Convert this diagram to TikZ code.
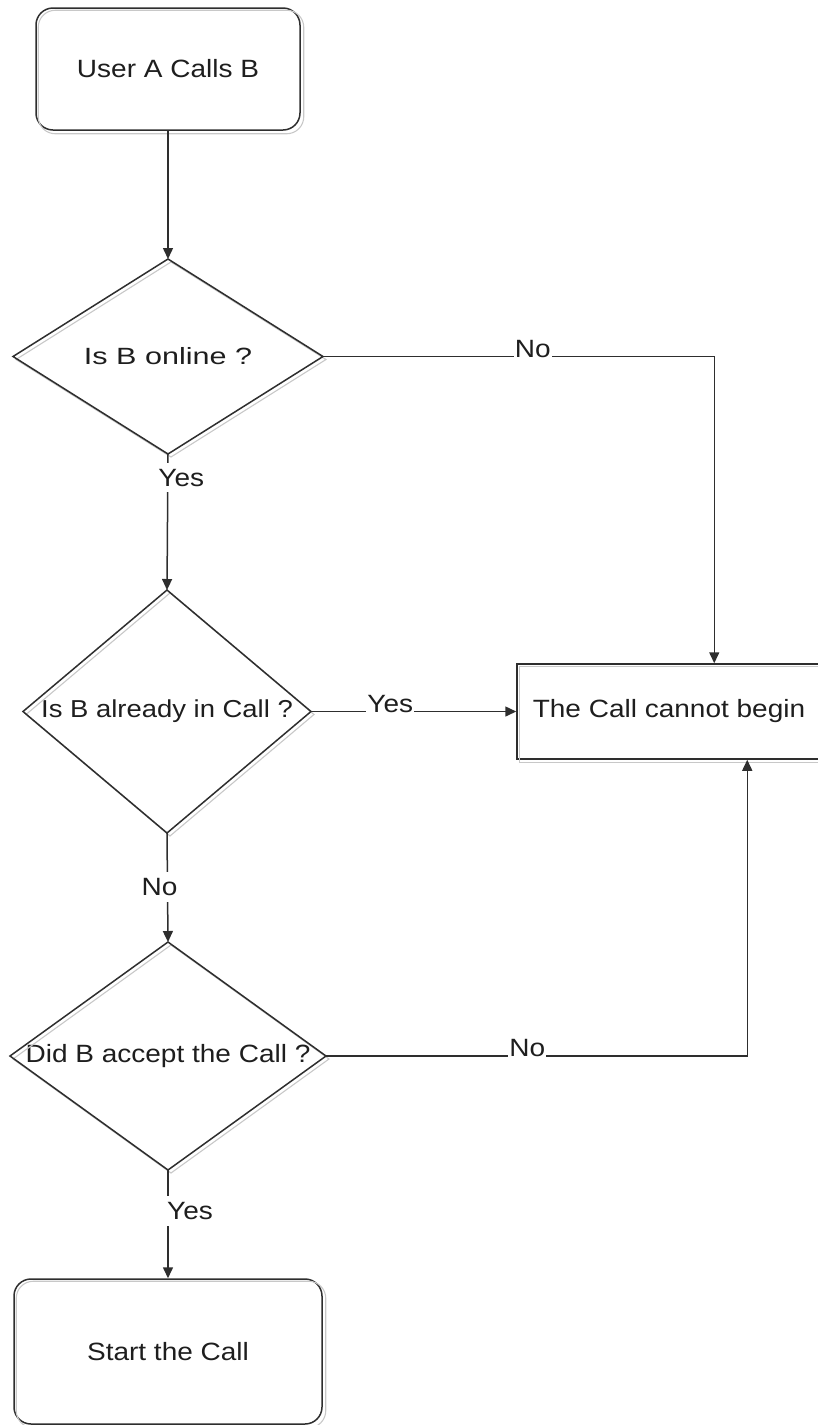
\documentclass[tikz,border=0pt]{standalone}
\usepackage{fontspec}
\setmainfont{Liberation Sans}[FakeStretch=1.12]
\newfontfamily\widefont{Liberation Sans}[FakeStretch=1.3]
\usetikzlibrary{arrows.meta}
\definecolor{ink}{HTML}{1E1E1E}
\definecolor{edge}{HTML}{2E2E2E}
\definecolor{shade}{HTML}{C8C8C8}

\begin{document}
\begin{tikzpicture}[x=1pt,y=-1pt,
  every node/.style={font=\fontsize{25}{30}\selectfont, text=ink},
  termbox/.style={rectangle, rounded corners=17pt, draw=edge, line width=1.5pt, align=center},
  plainbox/.style={rectangle, draw=edge, line width=1.5pt, align=center},
  decision/.style={rectangle, inner sep=0pt, outer sep=0pt, align=center},
  outline/.style={draw=edge, line width=1.5pt, line join=miter},
  ghost/.style={draw=shade, line width=1.1pt, transform canvas={xshift=3pt,yshift=-3pt}},
  conn/.style={draw=edge, line width=1.5pt},
  flow/.style={conn, -{Triangle[length=11pt,width=10pt]}},
  hlbl/.style={anchor=south, fill=white, inner xsep=1pt, inner ysep=0pt, yshift=-1.5pt},
  vlbl/.style={fill=white, inner xsep=2pt, inner ysep=6pt}
]
\useasboundingbox (0,0) rectangle (817,1425);

% terminals and the outcome box
\node[termbox, minimum width=264pt, minimum height=122pt] (start) at (168,69) {User A Calls B};
\node[termbox, minimum width=308pt, minimum height=145pt] (begin) at (168,1351.5) {Start the Call};
\node[plainbox, minimum width=304pt, minimum height=95pt] (nogo) at (669,711.5) {The Call cannot begin};

% decisions: text node plus a diamond outline through its anchors
\node[decision, minimum width=310pt, minimum height=195pt, font=\widefont\fontsize{23.5}{28}\selectfont] (q1) at (168,356.5) {Is B online ?};
\node[decision, minimum width=288pt, minimum height=243pt, font=\fontsize{24.5}{29}\selectfont] (q2) at (167,711.5) {Is B already in Call ?};
\node[decision, minimum width=316pt, minimum height=228pt] (q3) at (168,1056) {Did B accept the Call ?};

% light offset copies behind the outlines
\draw[ghost, rounded corners=17pt] (start.north west) rectangle (start.south east);
\draw[ghost, rounded corners=17pt] (begin.north west) rectangle (begin.south east);
\draw[ghost] (nogo.north west) rectangle (nogo.south east);
\foreach \q in {q1,q2,q3}{
  \draw[ghost] (\q.north) -- (\q.east) -- (\q.south) -- (\q.west) -- cycle;
  \draw[outline] (\q.north) -- (\q.east) -- (\q.south) -- (\q.west) -- cycle;
}

% entry points on the outcome box
\coordinate (nogoTop) at ([xshift=198pt]nogo.north west);
\coordinate (nogoBot) at ([xshift=231pt]nogo.south west);

% connectors
\draw[flow] (start.south) -- (q1.north);
\draw[flow] (q1.south) -- node[vlbl, pos=0.173, xshift=13.5pt] {Yes} (q2.north);
\draw[flow] (q2.south) -- node[vlbl, pos=0.495, xshift=-8pt] {No} (q3.north);
\draw[flow] (q3.south) -- node[vlbl, pos=0.38, xshift=22pt] {Yes} (begin.north);

\draw[flow] (q1.east) -- node[hlbl, pos=0.536] {No} (q1.east -| nogoTop) -- (nogoTop);
\draw[flow] (q2.east) -- node[hlbl, pos=0.386] {Yes} (nogo.west);
\draw[flow] (q3.east) -- node[hlbl, pos=0.478] {No} (q3.east -| nogoBot) -- (nogoBot);
\end{tikzpicture}
\end{document}
